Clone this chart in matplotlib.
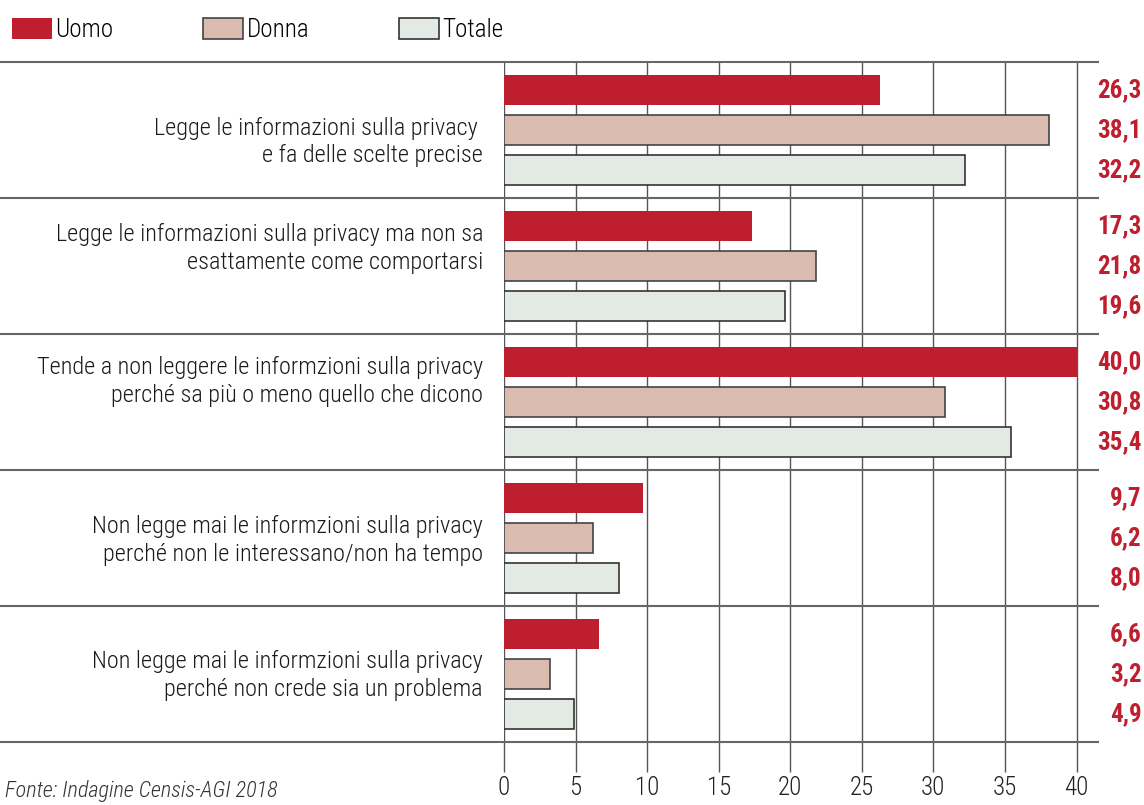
import matplotlib.pyplot as plt
import matplotlib.transforms as mtransforms
from matplotlib.lines import Line2D

plt.rcParams['font.family'] = ['Roboto Condensed', 'DejaVu Sans']

categories = [
    "Legge le informazioni sulla privacy \ne fa delle scelte precise",
    "Legge le informazioni sulla privacy ma non sa\nesattamente come comportarsi",
    "Tende a non leggere le informzioni sulla privacy\nperché sa più o meno quello che dicono",
    "Non legge mai le informzioni sulla privacy\nperché non le interessano/non ha tempo",
    "Non legge mai le informzioni sulla privacy\nperché non crede sia un problema",
]
uomo = [26.3, 17.3, 40.0, 9.7, 6.6]
donna = [38.1, 21.8, 30.8, 6.2, 3.2]
totale = [32.2, 19.6, 35.4, 8.0, 4.9]
series_names = ["Uomo", "Donna", "Totale"]
xticks = [0, 5, 10, 15, 20, 25, 30, 35, 40]
source = "Fonte: Indagine Censis-AGI 2018"

red = '#be1e2d'
fills = [red, '#d9bbb0', '#e3eae3']
edges = ['none', '#444444', '#333333']
label_dy = [0.09, -0.13, -0.15, 0.02, 0.01]

fig = plt.figure(figsize=(11.44, 8.05), dpi=100)
ax = fig.add_axes([0.4406, 0.0783, 0.5192, 0.8447])
fig_y = mtransforms.blended_transform_factory(fig.transFigure, ax.transData)

n = len(categories)
offsets = [-0.294, 0.0, 0.294]
h = 0.22
handles = []
for k, vals in enumerate([uomo, donna, totale]):
    ys = [i + offsets[k] for i in range(n)]
    b = ax.barh(ys, vals, height=h, color=fills[k], edgecolor=edges[k],
                linewidth=1.2, zorder=3, label=series_names[k])
    handles.append(b)
    for y, v in zip(ys, vals):
        fig.text(0.998, y, f"{v:.1f}".replace('.', ','), transform=fig_y,
                 ha='right', va='center', fontsize=18, fontweight='bold', color=red)

ax.set_xlim(0, 41.5)
ax.set_ylim(n - 0.5, -0.5)
ax.set_xticks(xticks)
ax.set_yticks([])
ax.grid(axis='x', color='#555555', linewidth=1.0, zorder=0)
ax.tick_params(axis='x', length=21.6, width=1.0, color='#555555', pad=3,
               labelsize=18, labelcolor='#222222')
for t in ax.get_xticklabels():
    t.set_fontweight('light')
for s in ax.spines.values():
    s.set_visible(False)

# horizontal separators across the whole width
for yv in [i - 0.5 for i in range(n + 1)]:
    fig.add_artist(Line2D([0, 0.9598], [yv, yv], transform=fig_y,
                          color='#666666', linewidth=1.5))

# category labels
for i, c in enumerate(categories):
    fig.text(483 / 1144, i + label_dy[i], c, transform=fig_y, ha='right',
             va='center', fontsize=17.5, fontweight='light', linespacing=1.25,
             color='#1a1a1a')

leg = fig.legend(handles=handles, labels=series_names, loc='upper left',
                 bbox_to_anchor=(0.002, 0.99), ncol=3, frameon=False,
                 fontsize=18, handlelength=1.6, handleheight=0.9,
                 handletextpad=0.12, columnspacing=3.6, borderaxespad=0)
for t in leg.get_texts():
    t.set_fontweight('light')

fig.text(0.004, 0.004, source, fontsize=16, style='italic', fontweight='light',
         color='#333333', ha='left', va='bottom')

fig.savefig('out.png', dpi=100)
